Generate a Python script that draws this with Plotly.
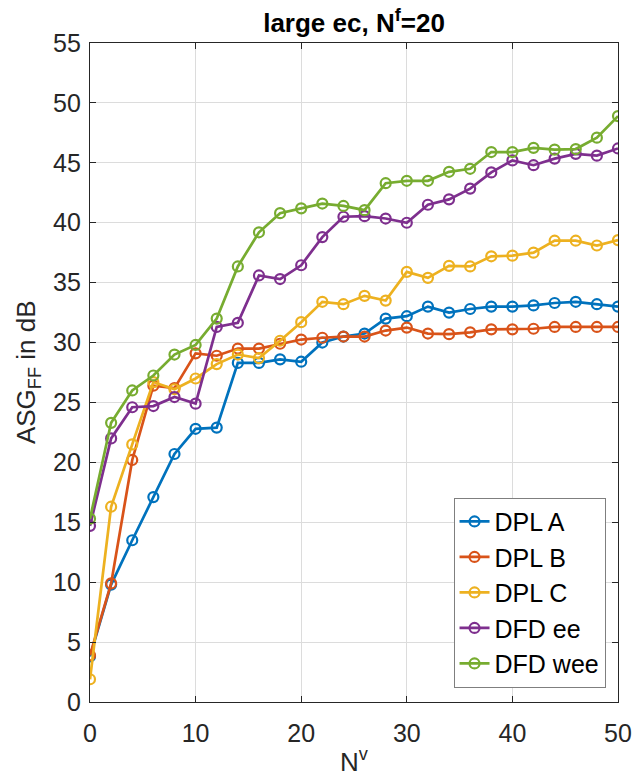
import plotly.graph_objects as go

# Number of variable nodes N^v (even values 0..50)
n_v = [0, 2, 4, 6, 8, 10, 12, 14, 16, 18, 20, 22, 24, 26,
       28, 30, 32, 34, 36, 38, 40, 42, 44, 46, 48, 50]

# ASG_FF in dB for each method
dpl_a = [3.8, 9.8, 13.5, 17.1, 20.7, 22.8, 22.9, 28.3, 28.3, 28.6, 28.4, 30.0, 30.5, 30.75,
         32.0, 32.2, 33.0, 32.5, 32.8, 33.0, 33.0, 33.1, 33.3, 33.4, 33.2, 33.0]
dpl_b = [3.9, 9.9, 20.2, 26.4, 26.2, 29.1, 28.9, 29.5, 29.5, 29.9, 30.25, 30.4, 30.5, 30.5,
         31.0, 31.25, 30.75, 30.7, 30.85, 31.1, 31.1, 31.15, 31.3, 31.3, 31.3, 31.3]
dpl_c = [1.9, 16.3, 21.5, 26.7, 26.1, 27.0, 28.2, 29.0, 28.7, 30.15, 31.7, 33.4, 33.2, 33.9,
         33.5, 35.9, 35.4, 36.4, 36.35, 37.2, 37.25, 37.5, 38.5, 38.5, 38.1, 38.55]
dfd_ee = [14.7, 22.0, 24.6, 24.7, 25.45, 24.9, 31.3, 31.65, 35.6, 35.3, 36.45, 38.8, 40.5, 40.55,
          40.35, 40.0, 41.5, 41.95, 42.85, 44.2, 45.2, 44.8, 45.35, 45.75, 45.6, 46.2]
dfd_wee = [15.3, 23.3, 26.0, 27.25, 29.0, 29.8, 32.0, 36.35, 39.2, 40.8, 41.2, 41.6, 41.4, 41.05,
           43.3, 43.5, 43.5, 44.25, 44.5, 45.9, 45.9, 46.25, 46.1, 46.15, 47.1, 48.9]

series = [
    ("DPL A", dpl_a, "#0072BD"),
    ("DPL B", dpl_b, "#D95319"),
    ("DPL C", dpl_c, "#EDB120"),
    ("DFD ee", dfd_ee, "#7E2F8E"),
    ("DFD wee", dfd_wee, "#77AC30"),
]

x_ticks = [0, 10, 20, 30, 40, 50]
y_ticks = [0, 5, 10, 15, 20, 25, 30, 35, 40, 45, 50, 55]

FONT = "Liberation Sans, Arial, Helvetica, sans-serif"
AXIS_COLOR = "#262626"

W, H = 633, 782
M_L, M_R, M_T, M_B = 89.5, 14.5, 43.3, 79.7
PLOT_W = W - M_L - M_R
PLOT_H = H - M_T - M_B

fig = go.Figure()
for name, vals, color in series:
    fig.add_trace(go.Scatter(
        x=n_v, y=vals, name=name, mode="lines+markers",
        line=dict(color=color, width=2.7),
        marker=dict(symbol="circle-open", size=10, color=color,
                    line=dict(color=color, width=2.2)),
    ))

axis_common = dict(
    showline=True, linecolor=AXIS_COLOR, linewidth=1.3, mirror="ticks",
    ticks="inside", ticklen=6, tickwidth=1.3, tickcolor=AXIS_COLOR,
    showgrid=True, gridcolor="#dcdcdc", gridwidth=1, zeroline=False,
    automargin=False,
    tickfont=dict(family=FONT, size=25, color=AXIS_COLOR),
)

fig.update_layout(
    width=W, height=H,
    margin=dict(l=M_L, r=M_R, t=M_T, b=M_B, autoexpand=False),
    paper_bgcolor="white", plot_bgcolor="white",
    font=dict(family=FONT, color=AXIS_COLOR),
    title=dict(
        text="<b>large ec, N<sup>f</sup>=20</b>",
        x=0.5, xref="paper", xanchor="center",
        y=1 - 23 / H, yref="container", yanchor="middle",
        font=dict(family=FONT, size=26, color="black"),
    ),
    xaxis=dict(range=[0, 50], tickvals=x_ticks, ticklabelstandoff=9, **axis_common),
    yaxis=dict(range=[0, 55], tickvals=y_ticks, ticklabelstandoff=3, **axis_common),
    legend=dict(
        x=(606 - M_L) / PLOT_W, y=(H - M_B - 688) / PLOT_H,
        xanchor="right", yanchor="bottom",
        bgcolor="white", bordercolor="#7f7f7f", borderwidth=1,
        font=dict(family=FONT, size=25, color="black"),
        itemwidth=30, tracegroupgap=0,
    ),
    showlegend=True,
    annotations=[
        dict(text="N<sup>v</sup>", xref="paper", yref="paper",
             x=0.5, y=-(761 - (H - M_B)) / PLOT_H,
             xanchor="center", yanchor="middle", showarrow=False,
             font=dict(family=FONT, size=26, color=AXIS_COLOR)),
        dict(text="ASG<sub>FF</sub> in dB", xref="paper", yref="paper",
             x=-(M_L - 27) / PLOT_W, y=0.5, textangle=-90,
             xanchor="center", yanchor="middle", showarrow=False,
             font=dict(family=FONT, size=26, color=AXIS_COLOR)),
    ],
)

fig.write_html("out.html")
